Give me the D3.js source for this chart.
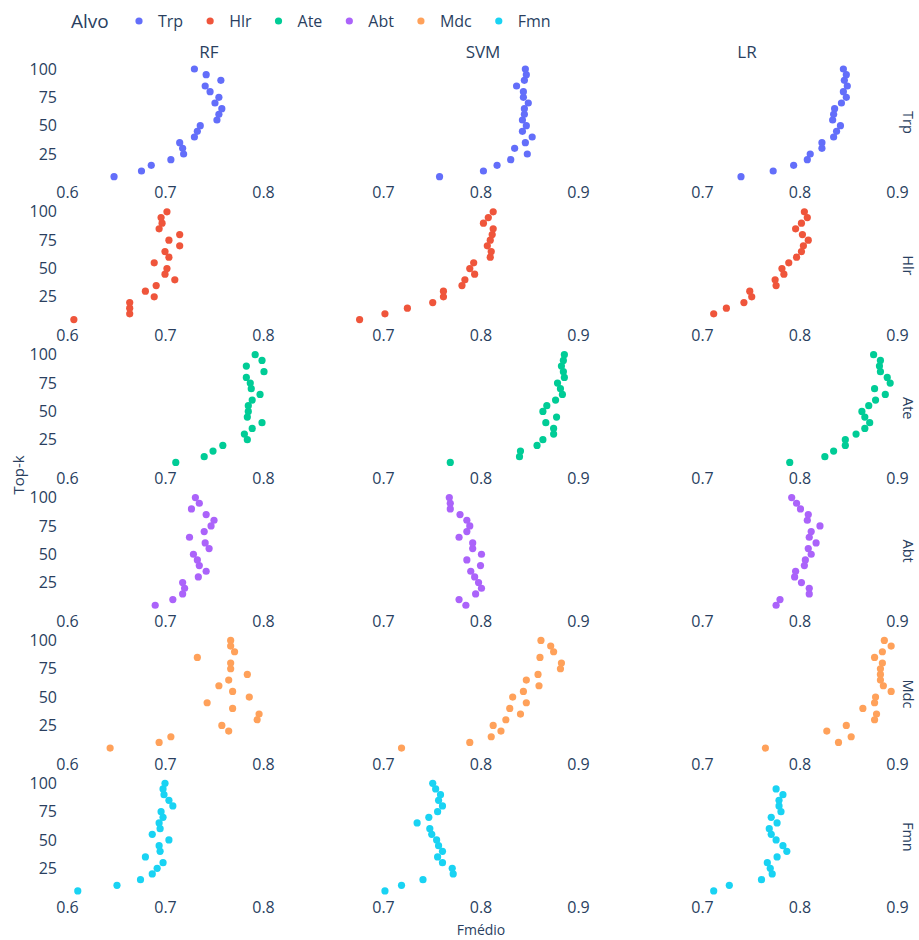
<!DOCTYPE html>
<html>
<head>
<meta charset="utf-8">
<script src="https://cdn.jsdelivr.net/npm/d3@7"></script>
<style>
  body { margin: 0; background: #fff; }
  text { font-family: "Open Sans", verdana, arial, sans-serif; fill: #2a3f5f; }
</style>
</head>
<body>
<div id="chart-area"></div>
<script>
// categories
var targets = ["Trp", "Hlr", "Ate", "Abt", "Mdc", "Fmn"];
var models = ["RF", "SVM", "LR"];
var topK = [5, 10, 15, 20, 25, 30, 35, 40, 45, 50, 55, 60, 65, 70, 75, 80, 85, 90, 95, 100];
var yTicks = [25, 50, 75, 100];
var xTicksByModel = [[0.6, 0.7, 0.8], [0.7, 0.8, 0.9], [0.7, 0.8, 0.9]];
var colors = ["#636efa", "#EF553B", "#00cc96", "#ab63fa", "#FFA15A", "#19d3f3"];

// Fmédio per top-k (k = 5 ... 100)
var trpRF  = [0.648, 0.676, 0.686, 0.706, 0.719, 0.718, 0.715, 0.730, 0.733, 0.736, 0.753, 0.755, 0.758, 0.751, 0.755, 0.746, 0.741, 0.757, 0.742, 0.730];
var trpSVM = [0.758, 0.803, 0.817, 0.831, 0.848, 0.835, 0.846, 0.853, 0.843, 0.847, 0.843, 0.845, 0.845, 0.849, 0.844, 0.844, 0.837, 0.845, 0.847, 0.846];
var trpLR  = [0.740, 0.773, 0.794, 0.808, 0.811, 0.823, 0.823, 0.835, 0.838, 0.842, 0.834, 0.835, 0.836, 0.843, 0.848, 0.845, 0.849, 0.846, 0.848, 0.845];

var hlrRF  = [0.607, 0.664, 0.664, 0.664, 0.689, 0.680, 0.691, 0.710, 0.700, 0.702, 0.689, 0.704, 0.700, 0.715, 0.704, 0.715, 0.694, 0.697, 0.696, 0.702];
var hlrSVM = [0.676, 0.702, 0.725, 0.751, 0.762, 0.762, 0.781, 0.784, 0.794, 0.789, 0.793, 0.810, 0.811, 0.807, 0.810, 0.812, 0.813, 0.803, 0.808, 0.813];
var hlrLR  = [null, 0.712, 0.725, 0.743, 0.751, 0.749, 0.776, 0.775, 0.784, 0.782, 0.789, 0.797, 0.802, 0.804, 0.809, 0.803, 0.796, 0.802, 0.808, 0.805];

var ateRF  = [0.711, 0.740, 0.749, 0.759, 0.784, 0.781, 0.789, 0.799, 0.784, 0.785, 0.785, 0.789, 0.797, 0.788, 0.787, 0.783, 0.801, 0.783, 0.799, 0.792];
var ateSVM = [0.769, 0.840, 0.841, 0.858, 0.864, 0.875, 0.875, 0.867, 0.878, 0.864, 0.868, 0.877, 0.884, 0.882, 0.879, 0.886, 0.885, 0.883, 0.885, 0.886];
var ateLR  = [0.790, 0.826, 0.835, 0.847, 0.847, 0.858, 0.867, 0.872, 0.867, 0.864, 0.871, 0.878, 0.888, 0.877, 0.893, 0.890, 0.883, 0.882, 0.883, 0.876];

var abtRF  = [0.690, 0.708, 0.718, 0.720, 0.718, 0.734, 0.742, 0.735, 0.733, 0.729, 0.745, 0.741, 0.725, 0.740, 0.747, 0.750, 0.742, 0.727, 0.735, 0.731];
var abtSVM = [0.785, 0.778, 0.795, 0.801, 0.798, 0.794, 0.790, 0.800, 0.786, 0.801, 0.792, 0.792, 0.778, 0.786, 0.789, 0.786, 0.779, 0.769, 0.769, 0.768];
var abtLR  = [0.776, 0.780, 0.810, 0.810, 0.802, 0.795, 0.796, 0.805, 0.806, 0.812, 0.809, 0.817, 0.810, 0.812, 0.821, 0.808, 0.809, 0.801, 0.797, 0.792];

var mdcRF  = [0.644, 0.694, 0.706, 0.765, 0.758, 0.794, 0.796, 0.769, 0.743, 0.786, 0.769, 0.755, 0.765, 0.784, 0.767, 0.767, 0.733, 0.771, 0.767, 0.767];
var mdcSVM = [0.719, 0.789, 0.811, 0.821, 0.813, 0.826, 0.841, 0.830, 0.847, 0.833, 0.844, 0.860, 0.847, 0.859, 0.882, 0.883, 0.861, 0.875, 0.872, 0.862];
var mdcLR  = [0.765, 0.840, 0.853, 0.828, 0.848, 0.877, 0.879, 0.865, 0.877, 0.878, 0.894, 0.886, 0.883, 0.883, 0.883, 0.885, 0.877, 0.885, 0.894, 0.887];

var fmnRF  = [0.611, 0.651, 0.675, 0.687, 0.692, 0.698, 0.680, 0.695, 0.694, 0.704, 0.687, 0.695, 0.694, 0.698, 0.696, 0.708, 0.704, 0.699, 0.698, 0.700];
var fmnSVM = [0.702, 0.719, 0.741, 0.772, 0.771, 0.761, 0.756, 0.761, 0.757, 0.755, 0.750, 0.748, 0.735, 0.747, 0.756, 0.761, 0.757, 0.759, 0.754, 0.751];
var fmnLR  = [0.712, 0.728, 0.761, 0.772, 0.770, 0.767, 0.777, 0.787, 0.783, 0.776, 0.771, 0.769, 0.777, 0.771, 0.781, 0.779, 0.779, 0.783, 0.776, null];

// rows = target, cols = model
var table = [
  [trpRF, trpSVM, trpLR],
  [hlrRF, hlrSVM, hlrLR],
  [ateRF, ateSVM, ateLR],
  [abtRF, abtSVM, abtLR],
  [mdcRF, mdcSVM, mdcLR],
  [fmnRF, fmnSVM, fmnLR]
];

var width = 919, height = 940;
var rowTop = 69, rowPitch = 142.86, rowSpan = 85;   // pixel span of 25..100
var colRanges = [[67, 263], [383, 578], [702, 897]];
var colDomains = [[0.6, 0.8], [0.7, 0.9], [0.7, 0.9]];
var titleX = [209, 483, 747];

var svg = d3.select("#chart-area")
  .append("svg")
  .attr("width", width)
  .attr("height", height);

svg.append("rect").attr("width", width).attr("height", height).attr("fill", "#fff");

var color = d3.scaleOrdinal().domain(targets).range(colors);

var xScales = models.map((m, c) => d3.scaleLinear().domain(colDomains[c]).range(colRanges[c]));

// Column titles
models.forEach((m, c) => {
  svg.append("text")
    .attr("x", titleX[c])
    .attr("y", 52)
    .attr("dy", "0.35em")
    .attr("text-anchor", "middle")
    .attr("font-size", "17px")
    .text(m);
});

targets.forEach((t, r) => {
  var top = rowTop + r * rowPitch;
  var y = d3.scaleLinear().domain([25, 100]).range([top + rowSpan, top]);

  // Y axis (first column only)
  var yAxis = svg.append("g")
    .attr("transform", "translate(60,0)")
    .call(d3.axisLeft(y).tickValues(yTicks).tickSize(0).tickPadding(3));
  yAxis.select(".domain").remove();
  yAxis.selectAll("text").attr("font-size", "16px").attr("font-family", null).attr("fill", "#2a3f5f");

  models.forEach((m, c) => {
    var x = xScales[c];

    // X axis for each panel
    var xAxis = svg.append("g")
      .attr("transform", "translate(0," + (top + 112) + ")")
      .call(d3.axisBottom(x).tickValues(xTicksByModel[c]).tickSize(0).tickPadding(6).tickFormat(d3.format(".1f")));
    xAxis.select(".domain").remove();
    xAxis.selectAll("text").attr("font-size", "16px").attr("font-family", null).attr("fill", "#2a3f5f");

    var pts = topK.map((k, i) => ({ k: k, v: table[r][c][i] })).filter(d => d.v != null);

    svg.append("g")
      .selectAll("circle")
      .data(pts)
      .enter()
      .append("circle")
      .attr("cx", d => x(d.v))
      .attr("cy", d => y(d.k))
      .attr("r", 3.6)
      .attr("fill", color(t));
  });

  // Row label
  var ly = top + 53.5;
  svg.append("text")
    .attr("transform", "translate(908," + ly + ") rotate(90)")
    .attr("text-anchor", "middle")
    .attr("dy", "0.35em")
    .attr("font-size", "14.5px")
    .text(t);
});

// Axis titles
svg.append("text")
  .attr("x", 481)
  .attr("y", 930)
  .attr("dy", "0.35em")
  .attr("text-anchor", "middle")
  .attr("font-size", "14px")
  .text("Fmédio");

svg.append("text")
  .attr("transform", "translate(19,475) rotate(-90)")
  .attr("text-anchor", "middle")
  .attr("dy", "0.35em")
  .attr("font-size", "15px")
  .text("Top-k");

// Legend
var legend = svg.append("g").attr("transform", "translate(0,21)");
legend.append("text")
  .attr("x", 71)
  .attr("dy", "0.35em")
  .attr("font-size", "19px")
  .text("Alvo");

var lx = 139;
targets.forEach(t => {
  legend.append("circle")
    .attr("cx", lx)
    .attr("r", 3.6)
    .attr("fill", color(t));
  var txt = legend.append("text")
    .attr("x", lx + 19)
    .attr("dy", "0.35em")
    .attr("font-size", "16px")
    .text(t);
  lx += 19 + txt.node().getComputedTextLength() + 27;
});
</script>
</body>
</html>
